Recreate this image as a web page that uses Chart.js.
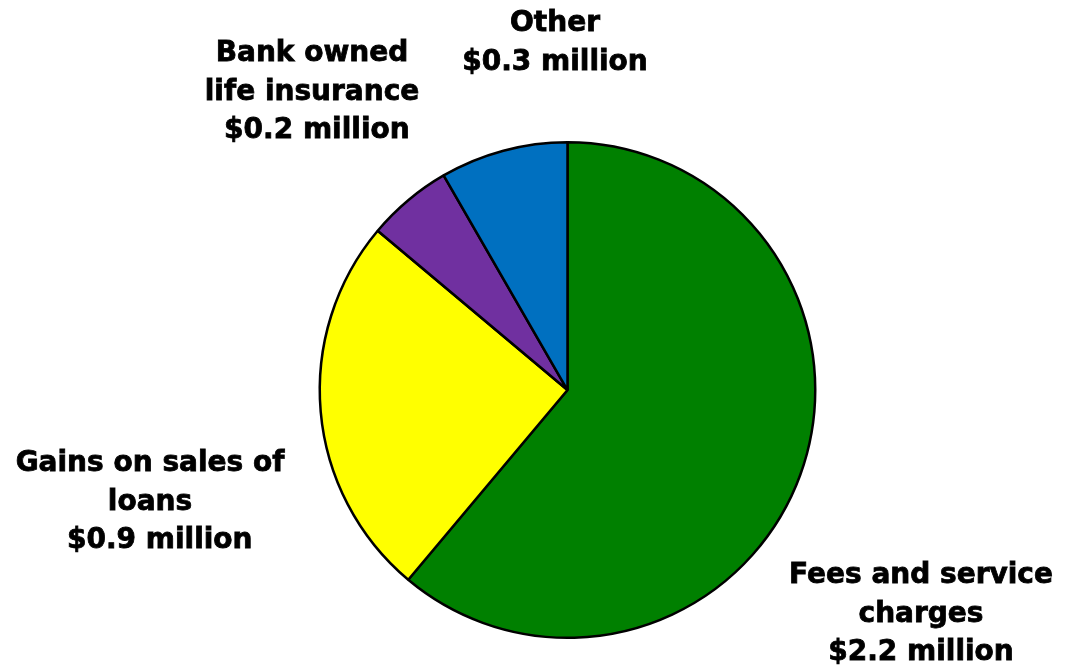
<!DOCTYPE html>
<html>
<head>
<meta charset="utf-8">
<script src="https://cdn.jsdelivr.net/npm/chart.js@4/dist/chart.umd.min.js"></script>
<style>
  html, body { margin: 0; padding: 0; background: #fff; }
  #wrap { width: 1076px; height: 666px; position: relative; }
</style>
</head>
<body>
<div id="wrap"><canvas id="chart"></canvas></div>
<script>
const categories = ['Fees and service charges', 'Gains on sales of loans', 'Bank owned life insurance', 'Other'];
const incomeMillions = [2.2, 0.9, 0.2, 0.3];
const sliceColors = ['#008000', '#FFFF00', '#7030A0', '#0070C0'];

// label text lines and anchor (centre x, first line y) for each slice
const labelLines = [
    ['Fees and service', 'charges', '$2.2 million'],
    ['Gains on sales of', 'loans', '  $0.9 million'],
    ['Bank owned', 'life insurance', ' $0.2 million'],
    ['Other', '$0.3 million']
];
const labelAnchors = [[921, 576], [150, 464], [312, 54], [555, 24]];

const sliceLabels = {
    id: 'sliceLabels',
    afterDraw(chart) {
        const ctx = chart.ctx;
        ctx.save();
        ctx.font = 'bold 28px "DejaVu Sans"';
        ctx.fillStyle = '#000';
        ctx.strokeStyle = '#000';
        ctx.lineWidth = 0.8;
        ctx.textAlign = 'center';
        ctx.textBaseline = 'middle';
        labelLines.forEach((lines, i) => {
            const [x, y] = labelAnchors[i];
            lines.forEach((line, j) => {
                ctx.fillText(line, x, y + j * 38.5);
                ctx.strokeText(line, x, y + j * 38.5);
            });
        });
        ctx.restore();
    }
};

const ctx = document.getElementById('chart').getContext('2d');
new Chart(ctx, {
    type: 'pie',
    data: {
        labels: categories,
        datasets: [{
            data: incomeMillions,
            backgroundColor: sliceColors,
            borderColor: '#000',
            borderWidth: 2.5
        }]
    },
    options: {
        responsive: true,
        maintainAspectRatio: false,
        animation: false,
        layout: { padding: { top: 141, bottom: 27, left: 200, right: 141 } },
        plugins: {
            legend: { display: false },
            tooltip: { enabled: false }
        }
    },
    plugins: [sliceLabels]
});
</script>
</body>
</html>
